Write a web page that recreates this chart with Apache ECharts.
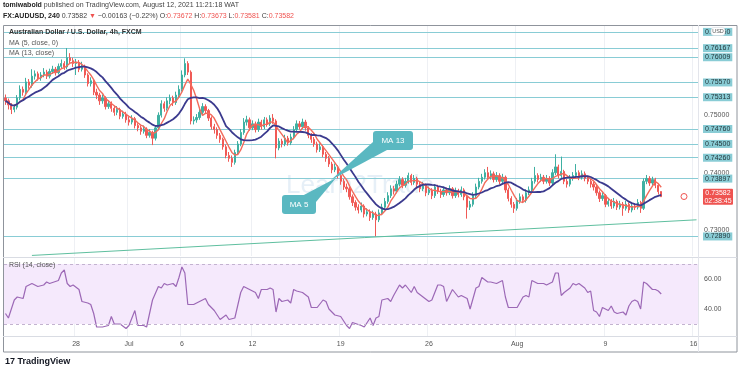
<!DOCTYPE html>
<html><head><meta charset="utf-8">
<script src="https://cdn.jsdelivr.net/npm/echarts@6/dist/echarts.min.js"></script>
<style>html,body{margin:0;padding:0;background:#fff}#c{width:740px;height:373px}</style>
</head><body><div id="c"></div>
<script>
// ---- data (4h AUD/USD bars, Jun 22 – Aug 12 2021) ----
const closes=[.7525,.7518,.7510,.7514,.7530,.7545,.7540,.7558,.7552,.7568,.7572,.7565,.7570,.7575,.7568,.7576,.7580,.7574,.7585,.7590,
.7584,.7600,.7595,.7590,.7592,.7580,.7585,.7570,.7555,.7560,.7540,.7535,.7525,.7530,.7515,.7520,.7512,.7505,.7510,.7498,
.7502,.7492,.7488,.7494,.7482,.7478,.7472,.7476,.7465,.7470,.7460,.7478,.7500,.7520,.7512,.7525,.7530,.7522,.7535,.7545,
.7570,.7590,.7575,.7490,.7492,.7496,.7505,.7515,.7508,.7495,.7480,.7475,.7465,.7458,.7445,.7430,.7425,.7418,.7435,.7450,
.7470,.7488,.7492,.7478,.7485,.7475,.7488,.7480,.7492,.7485,.7495,.7490,.7443,.7455,.7450,.7460,.7452,.7462,.7475,.7485,
.7480,.7488,.7478,.7465,.7458,.7450,.7440,.7445,.7432,.7425,.7415,.7405,.7410,.7395,.7385,.7375,.7372,.7358,.7348,.7340,
.7335,.7342,.7328,.7332,.7322,.7328,.7318,.7330,.7340,.7350,.7360,.7372,.7368,.7380,.7388,.7378,.7385,.7395,.7383,.7390,
.7380,.7372,.7378,.7365,.7370,.7360,.7375,.7368,.7362,.7370,.7365,.7372,.7360,.7368,.7362,.7370,.7358,.7340,.7345,.7360,
.7375,.7385,.7392,.7400,.7392,.7398,.7388,.7395,.7385,.7392,.7370,.7355,.7345,.7338,.7350,.7358,.7352,.7365,.7370,.7385,
.7395,.7388,.7392,.7385,.7390,.7382,.7400,.7410,.7395,.7402,.7385,.7380,.7390,.7395,.7400,.7392,.7398,.7390,.7385,.7380,
.7375,.7365,.7355,.7360,.7345,.7350,.7342,.7350,.7340,.7345,.7338,.7345,.7335,.7342,.7340,.7348,.7338,.7385,.7390,.7382,
.7388,.7378,.7367,.73582];
const opens=[.7530,.7525,.7518,.7510,.7514,.7530,.7545,.7540,.7558,.7552,.7568,.7572,.7565,.7570,.7575,.7568,.7576,.7580,.7574,.7585,
.7590,.7584,.7600,.7595,.7590,.7592,.7580,.7585,.7570,.7555,.7560,.7540,.7535,.7525,.7530,.7515,.7520,.7512,.7505,.7510,
.7498,.7502,.7492,.7488,.7494,.7482,.7478,.7472,.7476,.7465,.7470,.7460,.7478,.7500,.7520,.7512,.7525,.7530,.7522,.7535,
.7545,.7570,.7590,.7575,.7490,.7492,.7496,.7505,.7515,.7508,.7495,.7480,.7475,.7465,.7458,.7445,.7430,.7425,.7418,.7435,
.7450,.7470,.7488,.7492,.7478,.7485,.7475,.7488,.7480,.7492,.7485,.7495,.7490,.7443,.7455,.7450,.7460,.7452,.7462,.7475,
.7485,.7480,.7488,.7478,.7465,.7458,.7450,.7440,.7445,.7432,.7425,.7415,.7405,.7410,.7395,.7385,.7375,.7372,.7358,.7348,
.7340,.7335,.7342,.7328,.7332,.7322,.7328,.7318,.7330,.7340,.7350,.7360,.7372,.7368,.7380,.7388,.7378,.7385,.7395,.7383,
.7390,.7380,.7372,.7378,.7365,.7370,.7360,.7375,.7368,.7362,.7370,.7365,.7372,.7360,.7368,.7362,.7370,.7358,.7340,.7345,
.7360,.7375,.7385,.7392,.7400,.7392,.7398,.7388,.7395,.7385,.7392,.7370,.7355,.7345,.7338,.7350,.7358,.7352,.7365,.7370,
.7385,.7395,.7388,.7392,.7385,.7390,.7382,.7400,.7410,.7395,.7402,.7385,.7380,.7390,.7395,.7400,.7392,.7398,.7390,.7385,
.7380,.7375,.7365,.7355,.7360,.7345,.7350,.7342,.7350,.7340,.7345,.7338,.7345,.7335,.7342,.7340,.7348,.7338,.7385,.7390,
.7382,.7388,.7378,.73672];
const highs=[.7536,.7529,.7521,.7519,.7535,.7552,.7550,.7565,.7563,.7580,.7578,.7576,.7575,.7582,.7579,.7581,.7586,.7584,.7590,.7597,
.7594,.7617,.7608,.7600,.7598,.7596,.7593,.7588,.7573,.7566,.7563,.7546,.7539,.7536,.7533,.7526,.7524,.7516,.7516,.7513,
.7508,.7506,.7497,.7500,.7497,.7486,.7482,.7482,.7479,.7476,.7473,.7483,.7505,.7526,.7524,.7531,.7536,.7534,.7541,.7552,
.7578,.7599,.7594,.7578,.7498,.7502,.7512,.7521,.7519,.7511,.7498,.7485,.7479,.7469,.7461,.7449,.7436,.7430,.7440,.7455,
.7476,.7495,.7499,.7496,.7491,.7489,.7494,.7492,.7497,.7496,.7500,.7502,.7493,.7460,.7459,.7466,.7464,.7468,.7481,.7491,
.7490,.7494,.7492,.7481,.7469,.7462,.7454,.7451,.7448,.7436,.7429,.7419,.7416,.7413,.7399,.7389,.7381,.7375,.7362,.7352,
.7345,.7348,.7345,.7338,.7336,.7334,.7332,.7336,.7346,.7356,.7366,.7378,.7377,.7386,.7394,.7392,.7391,.7400,.7398,.7396,
.7393,.7384,.7384,.7381,.7376,.7373,.7380,.7379,.7372,.7376,.7374,.7378,.7375,.7374,.7372,.7376,.7373,.7361,.7351,.7366,
.7381,.7391,.7398,.7406,.7410,.7404,.7402,.7401,.7399,.7398,.7395,.7374,.7359,.7349,.7356,.7364,.7362,.7371,.7376,.7391,
.7410,.7399,.7398,.7396,.7396,.7394,.7406,.7432,.7414,.7428,.7405,.7389,.7396,.7401,.7415,.7404,.7404,.7402,.7394,.7389,
.7384,.7379,.7369,.7366,.7363,.7356,.7354,.7356,.7353,.7351,.7349,.7351,.7348,.7348,.7346,.7354,.7351,.7390,.7396,.7394,
.7393,.7391,.7381,.73673];
const lows=[.7518,.7510,.7502,.7505,.7510,.7526,.7534,.7536,.7546,.7548,.7562,.7560,.7560,.7566,.7563,.7564,.7572,.7569,.7571,.7581,
.7579,.7580,.7589,.7584,.7570,.7575,.7576,.7565,.7550,.7550,.7535,.7528,.7518,.7520,.7510,.7511,.7506,.7499,.7500,.7493,
.7494,.7487,.7482,.7484,.7477,.7472,.7466,.7468,.7460,.7461,.7448,.7456,.7474,.7496,.7506,.7508,.7519,.7516,.7518,.7530,
.7541,.7566,.7570,.7484,.7484,.7487,.7492,.7501,.7502,.7490,.7475,.7468,.7459,.7452,.7440,.7425,.7419,.7410,.7414,.7431,
.7446,.7466,.7482,.7473,.7474,.7470,.7471,.7475,.7476,.7480,.7481,.7485,.7425,.7439,.7444,.7446,.7447,.7448,.7458,.7471,
.7475,.7476,.7473,.7460,.7452,.7445,.7435,.7436,.7427,.7419,.7410,.7399,.7401,.7390,.7379,.7370,.7366,.7353,.7342,.7334,
.7329,.7331,.7322,.7324,.7316,.7318,.7289,.7314,.7326,.7336,.7346,.7356,.7362,.7364,.7376,.7373,.7374,.7381,.7378,.7379,
.7375,.7366,.7368,.7359,.7361,.7354,.7356,.7363,.7356,.7358,.7360,.7361,.7355,.7356,.7357,.7358,.7352,.7320,.7335,.7341,
.7356,.7371,.7381,.7388,.7387,.7388,.7383,.7384,.7380,.7381,.7365,.7350,.7339,.7330,.7334,.7346,.7347,.7348,.7361,.7366,
.7381,.7383,.7384,.7380,.7381,.7377,.7378,.7396,.7390,.7391,.7380,.7374,.7376,.7386,.7391,.7387,.7388,.7385,.7380,.7374,
.7369,.7360,.7349,.7351,.7340,.7341,.7337,.7338,.7335,.7336,.7325,.7334,.7330,.7331,.7335,.7336,.7330,.7335,.7380,.7377,
.7378,.7373,.7362,.73581];
const levelPrices=[0.7645,0.76167,0.76009,0.7557,0.75313,0.7476,0.745,0.7426,0.73897,0.7289];
const priceTicks=[0.73,0.74,0.75];
const lastPrice=0.73582;
const trendLine=[[9,0.7256],[235,0.7318]];
const rsiBars=[0,1,3,4,6,7,9,11,13,14,15,18,19,20,21,22,23,25,26,28,29,30,31,33,35,36,37,39,41,42,44,45,47,48,50,52,53,54,55,57,58,59,60,61,62,64,66,68,69,71,73,75,76,78,80,81,83,85,86,87,89,90,91,92,93,94,96,97,98,99,101,103,104,106,108,109,110,112,114,116,117,118,121,122,124,125,126,127,128,130,131,132,134,135,136,138,139,140,142,144,145,147,148,149,150,152,154,155,157,158,160,161,162,164,165,167,169,170,171,173,174,176,177,178,179,181,183,184,186,187,188,189,190,192,193,194,195,197,198,199,200,201,202,203,205,206,207,208,210,211,212,213,214,215,216,217,218,219,220,221,222,223];
const rsiValues=[37,34,46,48,47,55,57,55,56,58,57,59,64,66,57,55,56,53,45,44,43,37,28,28,29,35,30,30,27,29,39,29,29,28,46,55,54,57,56,57,55,61,68,64,43,43,45,47,43,39,33,36,33,34,51,55,53,51,47,53,53,54,53,38,47,45,46,44,53,52,51,48,41,41,46,45,40,36,35,29,27,31,29,28,34,29,34,35,46,47,45,49,56,54,56,51,55,51,48,45,46,56,56,55,45,53,48,49,47,40,54,55,61,58,58,57,59,48,41,41,41,48,49,48,59,57,57,56,58,64,64,49,51,54,57,56,57,54,51,52,39,38,35,41,39,42,38,37,38,36,42,45,46,45,40,58,57,55,53,53,52,50];
const rsiTicks=[40,60];
const xTickLabels=['28','Jul','6','12','19','26','Aug','9','16'];
const xTickBars=[24,42,60,84,114,144,174,204,234];
const N_SLOTS=236;

// ---- build ----
const FONT='Liberation Sans, Arial, sans-serif';
const cats=Array.from({length:N_SLOTS},(_,i)=>String(i));
const candleData=closes.map((c,i)=>[opens[i],c,lows[i],highs[i]]);
function sma(arr,n){return arr.map((_,i)=>{const s=arr.slice(Math.max(0,i-n+1),i+1);return +(s.reduce((a,b)=>a+b,0)/s.length).toFixed(5);});}
const ma5=sma(closes,5), ma13=sma(closes,13);
const rsiData=rsiBars.map((b,i)=>[b,rsiValues[i]]);
const isTick=(i)=>xTickBars.indexOf(i)>=0;
const TEAL='#89ccd5';

const graphics=[
    {type:'text',left:3,top:2,z:50,style:{text:'{b|tomiwabold} published on TradingView.com, August 12, 2021 11:21:18 WAT',fontSize:7,fill:'#444',fontFamily:FONT,rich:{b:{fontWeight:'bold',fontSize:7,fill:'#222',fontFamily:FONT}}}},
    {type:'text',left:3,top:13,z:50,style:{text:'{b|FX:AUDUSD, 240} 0.73582 {r|▼} −0.00163 (−0.22%) O:{r|0.73672} H:{r|0.73673} L:{r|0.73581} C:{r|0.73582}',fontSize:7,fill:'#444',fontFamily:FONT,
      rich:{b:{fontWeight:'bold',fontSize:7,fill:'#222',fontFamily:FONT},r:{fill:'#ef5350',fontSize:7,fontFamily:FONT}}}},
    {type:'text',left:9,top:29,z:50,style:{text:'Australian Dollar / U.S. Dollar, 4h, FXCM',fontSize:7,fontWeight:'bold',fill:'#333',fontFamily:FONT}},
    {type:'text',left:9,top:40,z:50,style:{text:'MA (5, close, 0)',fontSize:7,fill:'#555',fontFamily:FONT}},
    {type:'text',left:9,top:50,z:50,style:{text:'MA (13, close)',fontSize:7,fill:'#555',fontFamily:FONT}},
    {type:'text',left:9,top:262,z:50,style:{text:'RSI (14, close)',fontSize:7,fill:'#555',fontFamily:FONT}},
    {type:'text',x:360,y:186,z:-1,style:{text:'Learn2Trade',fontSize:26,fill:'rgba(130,175,215,0.2)',align:'center',verticalAlign:'middle',fontFamily:FONT}},
    {type:'rect',z:50,shape:{x:3.5,y:25.5,width:733.5,height:326.5},style:{fill:'none',stroke:'#8f949c',lineWidth:1}},
    {type:'line',z:50,shape:{x1:3,y1:257.5,x2:737,y2:257.5},style:{stroke:'#d9dce3',lineWidth:1}},
    {type:'line',z:50,shape:{x1:3,y1:336.5,x2:737,y2:336.5},style:{stroke:'#d9dce3',lineWidth:1}},
    {type:'line',z:50,shape:{x1:698.5,y1:25,x2:698.5,y2:352},style:{stroke:'#e3e5eb',lineWidth:1}},
    {type:'polygon',z:60,shape:{points:[[373,142],[387,150],[331,180]]},style:{fill:'#5ab8c1'}},
    {type:'rect',z:61,shape:{x:373,y:131,width:40,height:19,r:3},style:{fill:'#5ab8c1'}},
    {type:'text',z:62,x:393,y:140.5,style:{text:'MA 13',fill:'#fff',fontSize:8,align:'center',verticalAlign:'middle',fontFamily:FONT}},
    {type:'polygon',z:60,shape:{points:[[302,196],[316,202],[336,178]]},style:{fill:'#5ab8c1'}},
    {type:'rect',z:61,shape:{x:282,y:195,width:34,height:19,r:3},style:{fill:'#5ab8c1'}},
    {type:'text',z:62,x:299,y:204.5,style:{text:'MA 5',fill:'#fff',fontSize:8,align:'center',verticalAlign:'middle',fontFamily:FONT}},
    {type:'rect',z:70,shape:{x:711,y:27.5,width:14,height:8,r:3},style:{fill:'#fff',stroke:'#cfd3da',lineWidth:0.5}},
    {type:'text',z:71,x:718,y:31.5,style:{text:'USD',fill:'#555',fontSize:5.5,align:'center',verticalAlign:'middle',fontFamily:FONT}},
    {type:'circle',z:70,shape:{cx:684,cy:196.5,r:3},style:{fill:'#fff',stroke:'#ef5350',lineWidth:1}},
    {type:'text',left:5,top:357,z:50,style:{text:'{l|17} TradingView',fontSize:9,fontWeight:'bold',fill:'#131722',fontFamily:FONT,rich:{l:{fontSize:9,fontWeight:'bold',fill:'#131722',fontFamily:FONT}}}}
];

const chart=echarts.init(document.getElementById('c'),null,{renderer:'canvas'});
chart.setOption({
  animation:false,
  backgroundColor:'#ffffff',
  textStyle:{fontFamily:FONT},
  grid:[{left:4,right:42,top:25,height:231},{left:4,right:42,top:258,height:78}],
  xAxis:[
    {type:'category',gridIndex:0,data:cats,boundaryGap:true,axisLine:{show:false},axisTick:{show:false},axisLabel:{show:false},
     splitLine:{show:true,interval:(i)=>isTick(i),lineStyle:{color:'#eef0f4',width:1}}},
    {type:'category',gridIndex:1,data:cats,boundaryGap:true,axisLine:{show:false},axisTick:{show:false},
     axisLabel:{show:true,interval:(i)=>isTick(i),formatter:(v)=>{const k=xTickBars.indexOf(Number(v));return k>=0?xTickLabels[k]:'';},color:'#555',fontSize:7,margin:5,fontFamily:FONT},
     splitLine:{show:true,interval:(i)=>isTick(i),lineStyle:{color:'#eef0f4',width:1}}}
  ],
  yAxis:[
    {type:'value',gridIndex:0,position:'right',min:0.7255,max:0.7657,scale:true,axisLine:{show:false},axisTick:{show:false},splitLine:{show:false},
     axisLabel:{show:true,customValues:priceTicks,formatter:(v)=>v.toFixed(5),color:'#555',fontSize:7,margin:6,fontFamily:FONT}},
    {type:'value',gridIndex:1,position:'right',min:22,max:74,axisLine:{show:false},axisTick:{show:false},splitLine:{show:false},
     axisLabel:{show:true,customValues:rsiTicks,formatter:(v)=>v.toFixed(2),color:'#555',fontSize:7,margin:6,fontFamily:FONT}}
  ],
  series:[
    {type:'candlestick',name:'AUDUSD',xAxisIndex:0,yAxisIndex:0,data:candleData,barWidth:'60%',z:2,
     itemStyle:{color:'#3fb0a2',color0:'#f05a56',borderColor:'#3fb0a2',borderColor0:'#f05a56',borderWidth:1},
     markLine:{silent:true,symbol:['none','none'],animation:false,precision:5,z:1,
       lineStyle:{color:TEAL,width:1.2,type:'solid'},
       label:{show:true,position:'end',distance:5,formatter:(p)=>Number(p.value).toFixed(5),backgroundColor:TEAL,color:'#24383d',fontSize:7,padding:[1,2,0,2],fontFamily:FONT},
       data:levelPrices.map(v=>({yAxis:v}))}},
    {type:'line',name:'MA5',xAxisIndex:0,yAxisIndex:0,data:ma5,showSymbol:false,symbol:'none',z:4,lineStyle:{color:'#f26b5b',width:1.4}},
    {type:'line',name:'MA13',xAxisIndex:0,yAxisIndex:0,data:ma13,showSymbol:false,symbol:'none',z:5,lineStyle:{color:'#3b3a8e',width:1.8},
     markLine:{silent:true,symbol:['none','none'],animation:false,precision:5,lineStyle:{color:'#5fbf9f',width:1,type:'solid'},label:{show:false},
       data:[[{coord:trendLine[0]},{coord:trendLine[1]}]]}},
    {type:'line',name:'RSI',xAxisIndex:1,yAxisIndex:1,data:rsiData,showSymbol:false,symbol:'none',z:4,lineStyle:{color:'#9c68b6',width:1.2},
     markArea:{silent:true,itemStyle:{color:'#f5e9fc'},data:[[{yAxis:30},{yAxis:70}]]},
     markLine:{silent:true,symbol:['none','none'],animation:false,lineStyle:{color:'#c3b3d0',width:1,type:[3,3]},label:{show:false},
       data:[{yAxis:70},{yAxis:30}]}}
  ],
  graphic:graphics
});
// current-price tag placed through the price scale
const py=chart.convertToPixel({yAxisIndex:0},lastPrice);
graphics.push(
  {type:'rect',z:80,shape:{x:703,y:py-8,width:30,height:16,r:1},style:{fill:'#ef5350'}},
  {type:'text',z:81,x:718,y:py,style:{text:lastPrice.toFixed(5)+'\n02:38:45',fill:'#fff',fontSize:7,lineHeight:8,align:'center',verticalAlign:'middle',fontFamily:FONT}}
);
chart.setOption({graphic:graphics});
</script></body></html>
